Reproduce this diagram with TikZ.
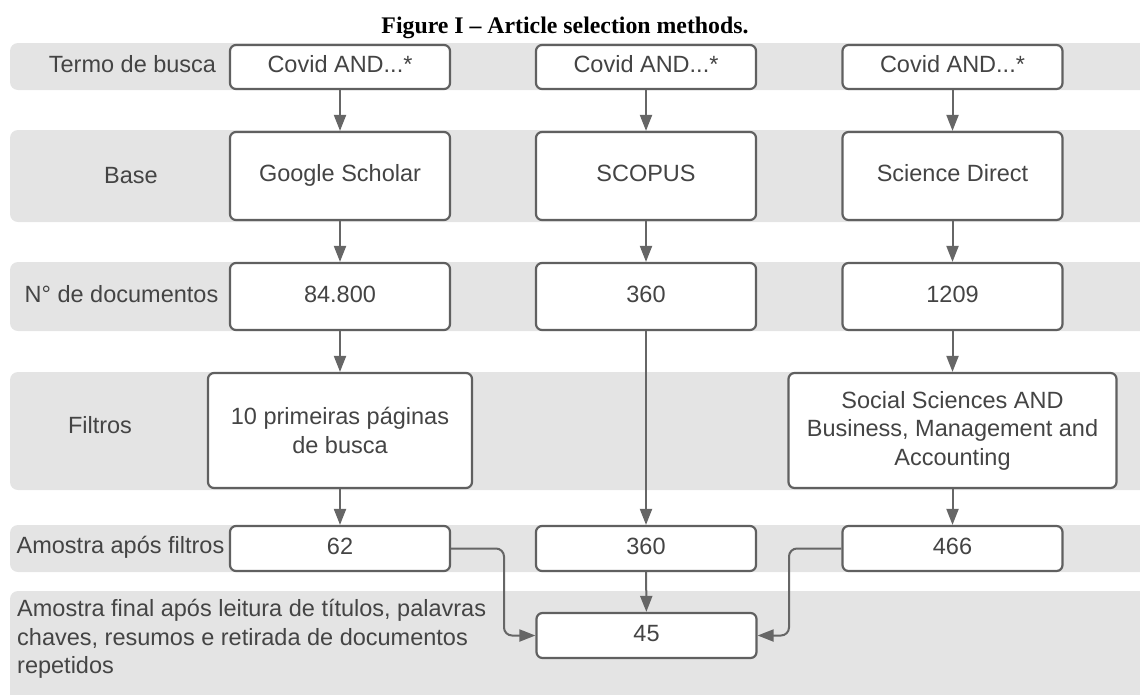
\documentclass[tikz,border=0pt]{standalone}
\usepackage{fontspec}
\setmainfont{Liberation Sans}
\newfontfamily\titlefont{Liberation Serif}
\usetikzlibrary{arrows.meta}
\definecolor{bandgray}{HTML}{E4E4E4}
\definecolor{txtgray}{HTML}{444444}
\definecolor{linegray}{HTML}{606060}
\definecolor{arrgray}{HTML}{666666}
\begin{document}
\begin{tikzpicture}[x=1pt,y=-1pt,
  band/.style={fill=bandgray, rounded corners=8pt},
  box/.style={draw=linegray, line width=2.2pt, fill=white, rounded corners=6pt,
    minimum width=220pt, inner sep=0pt, align=center, text=txtgray,
    font=\fontsize{23.5}{28.5}\selectfont},
  oneline/.style={text height=17pt, text depth=6pt},
  lbl/.style={text=txtgray, inner sep=0pt, font=\fontsize{23.5}{28.5}\selectfont},
  conn/.style={draw=arrgray, line width=2pt, -{Triangle[length=16pt,width=12pt]}, rounded corners=8pt}]
\useasboundingbox (0,0) rectangle (1140,694);
\begin{scope}
\clip (0,0) rectangle (1140,694);
\fill[band] (10,43) rectangle (1160,90);
\fill[band] (10,130) rectangle (1160,222);
\fill[band] (10,262) rectangle (1160,331);
\fill[band] (10,372) rectangle (1160,490);
\fill[band] (10,525) rectangle (1160,572);
\fill[band] (10,591) rectangle (1160,710);
\end{scope}
% title
\node[anchor=base, inner sep=0pt, font=\titlefont\bfseries\fontsize{23.8}{28}\selectfont] (title) at (565,33) {Figure I – Article selection methods.};
% row labels
\node[lbl, anchor=base] (l1) at (132.5,72) {Termo de busca};
\node[lbl, anchor=base] (l2) at (131,183) {Base};
\node[lbl, anchor=base] (l3) at (121.5,302) {N° de documentos};
\node[lbl, anchor=base] (l4) at (100,433) {Filtros};
\node[lbl, anchor=base] (l5) at (120.5,553) {Amostra após filtros};
\node[lbl, anchor=west, align=left] (l6) at (17,639) {Amostra final após leitura de títulos, palavras\\chaves, resumos e retirada de documentos\\repetidos};
% row 1
\node[box, oneline, minimum height=44pt] (t1) at (340,67) {Covid AND...*};
\node[box, oneline, minimum height=44pt] (t2) at (646,67) {Covid AND...*};
\node[box, oneline, minimum height=44pt] (t3) at (952.5,67) {Covid AND...*};
% row 2
\node[box, oneline, minimum height=88pt] (b1) at (340,176) {Google Scholar};
\node[box, oneline, minimum height=88pt] (b2) at (646,176) {SCOPUS};
\node[box, oneline, minimum height=88pt] (b3) at (952.5,176) {Science Direct};
% row 3
\node[box, oneline, minimum height=67pt] (n1) at (340,296.5) {84.800};
\node[box, oneline, minimum height=67pt] (n2) at (646,296.5) {360};
\node[box, oneline, minimum height=67pt] (n3) at (952.5,296.5) {1209};
% row 4
\node[box, minimum height=115pt, minimum width=264pt] (f1) at (340,430.5) {10 primeiras páginas\\de busca};
\node[box, minimum height=115pt, minimum width=328pt] (f3) at (952.5,430.5) {Social Sciences AND\\Business, Management and\\Accounting};
% row 5
\node[box, oneline, minimum height=45pt] (a1) at (340,548.5) {62};
\node[box, oneline, minimum height=45pt] (a2) at (646,548.5) {360};
\node[box, oneline, minimum height=45pt] (a3) at (952.5,548.5) {466};
% row 6
\node[box, oneline, minimum height=45pt] (fin) at (646.5,635.5) {45};
% junction coordinates
\coordinate (jl) at (504,590);
\coordinate (jr) at (789,590);
% connectors
\draw[conn] (t1) -- (b1);
\draw[conn] (t2) -- (b2);
\draw[conn] (t3) -- (b3);
\draw[conn] (b1) -- (n1);
\draw[conn] (b2) -- (n2);
\draw[conn] (b3) -- (n3);
\draw[conn] (n1) -- (f1);
\draw[conn] (n3) -- (f3);
\draw[conn] (n2) -- (a2);
\draw[conn] (f1) -- (a1);
\draw[conn] (f3) -- (a3);
\draw[conn] (a2) -- (fin);
\draw[conn] (a1.east) -| (jl) |- (fin.west);
\draw[conn] (a3.west) -| (jr) |- (fin.east);
\end{tikzpicture}
\end{document}
